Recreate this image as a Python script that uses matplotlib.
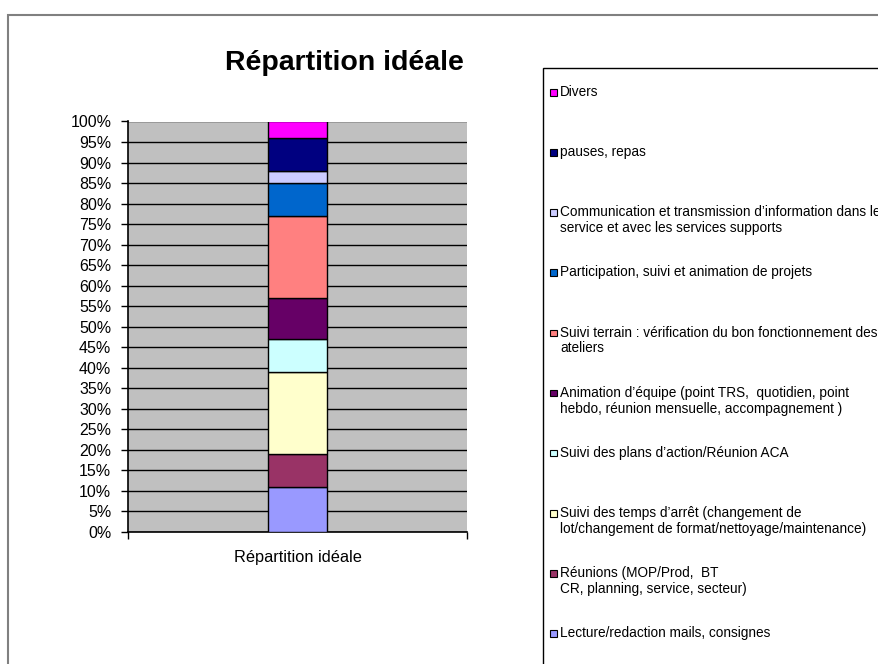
import matplotlib.pyplot as plt
from matplotlib.patches import Rectangle

# Données (de bas en haut de la barre)
activites = [
    "Lecture/redaction mails, consignes",
    "Réunions (MOP/Prod,  BT\nCR, planning, service, secteur)",
    "Suivi des temps d’arrêt (changement de\nlot/changement de format/nettoyage/maintenance)",
    "Suivi des plans d’action/Réunion ACA",
    "Animation d’équipe (point TRS,  quotidien, point\nhebdo, réunion mensuelle, accompagnement )",
    "Suivi terrain : vérification du bon fonctionnement des\nateliers",
    "Participation, suivi et animation de projets",
    "Communication et transmission d’information dans le\nservice et avec les services supports",
    "pauses, repas",
    "Divers",
]
parts = [11, 8, 20, 8, 10, 20, 8, 3, 8, 4]
couleurs = ["#9999FF", "#993366", "#FFFFCC", "#CCFFFF", "#660066",
            "#FF8080", "#0066CC", "#CCCCFF", "#000080", "#FF00FF"]
categorie = "Répartition idéale"
titre = "Répartition idéale"
yticks = list(range(0, 101, 5))

plt.rcParams["font.family"] = ["Liberation Sans", "DejaVu Sans"]

W, H = 879, 664
fig = plt.figure(figsize=(W / 100, H / 100), dpi=100)


def fx(px):
    return px / W


def fy(py):
    return 1 - py / H


# cadre extérieur du graphique
fig.patches.append(Rectangle((fx(8), -0.2), 2, fy(15) + 0.2, transform=fig.transFigure,
                             fill=False, edgecolor="#808080", lw=1.5))

ax = fig.add_axes([fx(128), fy(532), fx(467) - fx(128), fy(121.5) - fy(532)])
ax.set_facecolor("#C0C0C0")

bas = 0
for val, col in zip(parts, couleurs):
    ax.bar(0, val, width=0.174, bottom=bas, color=col, edgecolor="black", lw=1, zorder=3)
    bas += val

ax.set_xlim(-0.5, 0.5)
ax.set_ylim(0, 100)
ax.set_yticks(yticks)
ax.set_yticklabels([f"{t}%" for t in yticks], fontsize=11.5)
ax.yaxis.grid(True, color="black", lw=1)
ax.set_axisbelow(True)
ax.tick_params(axis="y", direction="out", length=5, width=1, pad=7)

ax.set_xticks([0])
ax.set_xticklabels([categorie], fontsize=11.8)
ax.set_xticks([-0.5, 0.5], minor=True)
ax.tick_params(axis="x", which="major", length=0, pad=13)
ax.tick_params(axis="x", which="minor", direction="out", length=5, width=1)

for s in ["top", "right"]:
    ax.spines[s].set_visible(False)
ax.spines["left"].set_linewidth(1.2)
ax.spines["bottom"].set_linewidth(1.2)

fig.text(fx(344), fy(63), titre, ha="center", va="center", fontsize=20.5, fontweight="bold")

# légende (ordre inverse, comme Excel)
fig.patches.append(Rectangle((fx(543), -0.2), 2, fy(68) + 0.2, transform=fig.transFigure,
                             fill=False, edgecolor="black", lw=1))
y0, pas = 92.5, 60.15
for i, (lab, col) in enumerate(zip(activites[::-1], couleurs[::-1])):
    yc = y0 + i * pas
    fig.patches.append(Rectangle((fx(550.5), fy(yc + 3)), fx(6.5), 6.5 / H, transform=fig.transFigure,
                                 facecolor=col, edgecolor="black", lw=0.8))
    fig.text(fx(560), fy(yc - 7.5), lab, ha="left", va="top", fontsize=9.8, linespacing=1.17)

fig.savefig("out.png", dpi=100)
